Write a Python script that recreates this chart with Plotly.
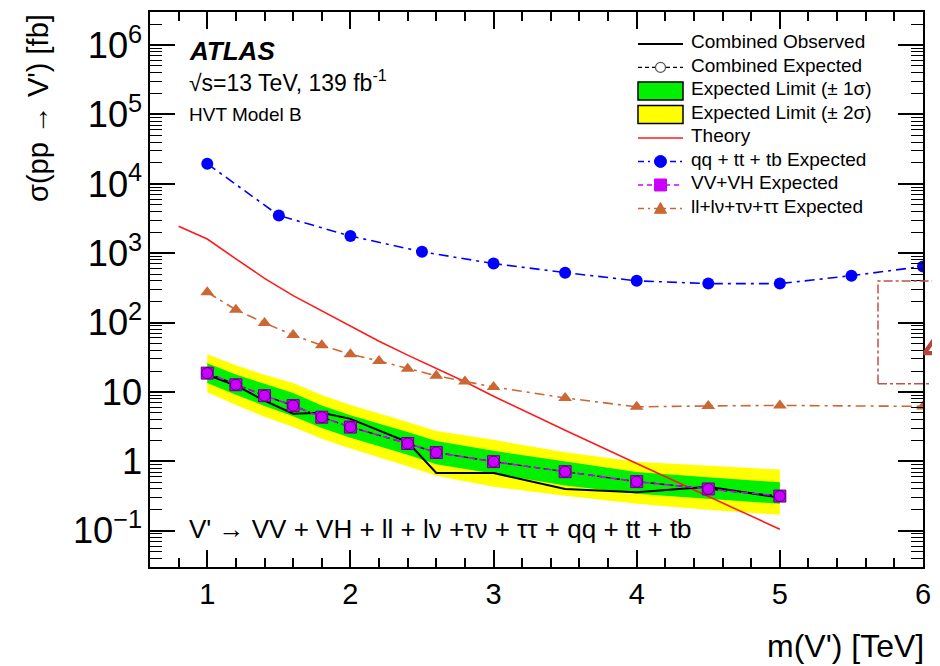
import math
import plotly.graph_objects as go

# ---------------- data ----------------
mass_comb = [1.0, 1.2, 1.4, 1.6, 1.8, 2.0, 2.4, 2.6, 3.0, 3.5, 4.0, 4.5, 5.0]
obs_limit = [17.7, 12.4, 7.5, 4.85, 5.0, 4.1, 1.9, 0.68, 0.68, 0.40, 0.36, 0.43, 0.30]
exp_limit = [18.7, 12.7, 8.85, 6.37, 4.33, 3.12, 1.81, 1.34, 0.99, 0.71, 0.51, 0.40, 0.316]
vvvh_exp = [18.7, 12.7, 8.85, 6.37, 4.33, 3.12, 1.81, 1.34, 0.99, 0.71, 0.51, 0.40, 0.316]
band1_up = [26.0, 17.9, 13.1, 9.7, 6.4, 4.6, 2.64, 1.97, 1.42, 0.99, 0.70, 0.59, 0.50]
band1_dn = [13.5, 9.1, 6.3, 4.48, 3.03, 2.18, 1.24, 0.91, 0.66, 0.45, 0.34, 0.29, 0.245]
band2_up = [34.9, 24.2, 17.7, 13.5, 9.06, 6.5, 3.7, 2.74, 2.04, 1.35, 0.99, 0.86, 0.76]
band2_dn = [9.9, 6.5, 4.4, 3.12, 2.12, 1.53, 0.85, 0.62, 0.43, 0.32, 0.245, 0.20, 0.17]

mass_theory = [0.8, 0.9, 1.0, 1.2, 1.4, 1.6, 1.8, 2.0, 2.2, 2.4, 2.6, 2.8, 3.0, 3.5, 4.0, 4.5, 5.0]
theory_xsec = [2450, 2000, 1600, 830, 435, 245, 148, 89, 54, 34, 22, 14, 8.7, 2.8, 0.93, 0.31, 0.105]

mass_qq = [1.0, 1.5, 2.0, 2.5, 3.0, 3.5, 4.0, 4.5, 5.0, 5.5, 6.0]
qq_exp = [19500, 3500, 1770, 1050, 710, 525, 400, 365, 365, 475, 645]

mass_lep = [1.0, 1.2, 1.4, 1.6, 1.8, 2.0, 2.2, 2.4, 2.6, 2.8, 3.0, 3.5, 4.0, 4.5, 5.0, 6.0]
lep_exp = [274, 153, 99, 66, 47, 35, 28, 21.7, 17.1, 14.2, 11.8, 8.2, 6.1, 6.3, 6.4, 6.2]

x_tickvals = [1, 2, 3, 4, 5, 6]
x_ticktext = ["1", "2", "3", "4", "5", "6"]
y_tickvals = [0.1, 1, 10, 100, 1e3, 1e4, 1e5, 1e6]
y_ticktext = ["10<sup>\u22121</sup>", "1", "10", "10<sup>2</sup>", "10<sup>3</sup>",
              "10<sup>4</sup>", "10<sup>5</sup>", "10<sup>6</sup>"]

legend_labels = ["Combined Observed", "Combined Expected",
                 "Expected Limit (\u00b1 1\u03c3)", "Expected Limit (\u00b1 2\u03c3)",
                 "Theory", "qq + tt + tb Expected", "VV+VH Expected",
                 "ll+l\u03bd+\u03c4\u03bd+\u03c4\u03c4 Expected"]

# ---------------- style / geometry ----------------
FONT = "Liberation Sans, Arial, Helvetica, sans-serif"
GREEN = "#00f000"
YELLOW = "#ffff00"
BLUE = "#0000ff"
MAGENTA = "#cc00ff"
BROWN = "#cc6633"
RED = "#ff1a1a"
DASHDOT = "10px,5px,3px,5px"

X_MIN, X_MAX = 0.6, 6.0
Y_MIN, Y_MAX = 0.03, 3e6
LY0, LY1 = math.log10(Y_MIN), math.log10(Y_MAX)

# page has an 8px body margin -> figure is 8px smaller, margins shifted
FIG_W, FIG_H = 932, 658
ML, MR, MT, MB = 142, 17, 2, 99
PW = FIG_W - ML - MR      # plot width in px
PH = FIG_H - MT - MB      # plot height in px
OFF = 8                   # page offset


def pp(X, Y):
    """page pixel -> paper coords"""
    return (X - OFF - ML) / PW, (FIG_H - MB - (Y - OFF)) / PH


fig = go.Figure()

# bands
fig.add_trace(go.Scatter(
    x=mass_comb + mass_comb[::-1], y=band2_up + band2_dn[::-1],
    fill="toself", fillcolor=YELLOW, line=dict(width=0), mode="lines",
    hoverinfo="skip", showlegend=False))
fig.add_trace(go.Scatter(
    x=mass_comb + mass_comb[::-1], y=band1_up + band1_dn[::-1],
    fill="toself", fillcolor=GREEN, line=dict(width=0), mode="lines",
    hoverinfo="skip", showlegend=False))

# theory
fig.add_trace(go.Scatter(
    x=mass_theory, y=theory_xsec, mode="lines", showlegend=False,
    line=dict(color=RED, width=1.6)))

# qq + tt + tb expected
fig.add_trace(go.Scatter(
    x=mass_qq, y=qq_exp, mode="lines+markers", showlegend=False,
    line=dict(color=BLUE, width=1.6, dash=DASHDOT),
    marker=dict(symbol="circle", size=12, color=BLUE)))

# leptonic expected
fig.add_trace(go.Scatter(
    x=mass_lep, y=lep_exp, mode="lines+markers", showlegend=False,
    line=dict(color=BROWN, width=1.6, dash=DASHDOT),
    marker=dict(symbol="triangle-up", size=12, color=BROWN)))

# combined expected
fig.add_trace(go.Scatter(
    x=mass_comb, y=exp_limit, mode="lines+markers", showlegend=False,
    line=dict(color="black", width=1.4, dash="5px,4px"),
    marker=dict(symbol="circle-open", size=10, color="#555555", line=dict(width=1.2))))

# observed
fig.add_trace(go.Scatter(
    x=mass_comb, y=obs_limit, mode="lines", showlegend=False,
    line=dict(color="black", width=2)))

# VV+VH expected
fig.add_trace(go.Scatter(
    x=mass_comb, y=vvvh_exp, mode="lines+markers", showlegend=False,
    line=dict(color=MAGENTA, width=1.6, dash="7px,4px"),
    marker=dict(symbol="square", size=12, color="#c000f0",
                line=dict(color="#6a0090", width=1))))
fig.add_trace(go.Scatter(
    x=mass_comb, y=vvvh_exp, mode="markers", showlegend=False, hoverinfo="skip",
    marker=dict(symbol="circle", size=11, color=MAGENTA,
                line=dict(color="#50006a", width=1))))

# ---------------- axes: ROOT-style inside ticks on all four sides ----------------
axis_common = dict(
    showline=True, linecolor="black", linewidth=2, mirror="allticks",
    ticks="inside", tickcolor="black", showgrid=False, zeroline=False,
    layer="above traces",
    tickfont=dict(family=FONT, size=29, color="black"),
)

fig.update_xaxes(
    range=[X_MIN, X_MAX], tickmode="linear", tick0=0, dtick=1,
    ticklen=17, tickwidth=2,
    minor=dict(ticks="inside", ticklen=9, tickwidth=1.5, tickmode="linear",
               tick0=0, dtick=0.2, tickcolor="black", showgrid=False),
    **axis_common)
fig.update_yaxes(
    type="log", range=[LY0, LY1],
    tickmode="linear", tick0=0, dtick=1, exponentformat="power", showexponent="all",
    ticklen=25, tickwidth=2,
    minor=dict(ticks="inside", ticklen=12, tickwidth=1.3, dtick="D1",
               tickcolor="black", showgrid=False),
    **axis_common)

shapes = []

# ---------------- texts ----------------
annotations = []


def add_text(text, X, Y, size, xanchor="left", yanchor="middle", angle=0, color="black"):
    px, py = pp(X, Y)
    annotations.append(dict(text=text, x=px, y=py, xref="paper", yref="paper",
                            xanchor=xanchor, yanchor=yanchor, textangle=angle,
                            showarrow=False,
                            font=dict(family=FONT, size=size, color=color)))


add_text("<b><i>ATLAS</i></b>", 187, 49, 26)
add_text("\u221as=13 TeV, 139 fb<sup>-1</sup>", 187, 79, 23)
add_text("HVT Model B", 187, 113, 19)
add_text("V' \u2192 VV + VH + ll + l\u03bd +\u03c4\u03bd + \u03c4\u03c4 + qq + tt + tb",
         187, 529, 26)
add_text("\u03c3(pp \u2192 V') [fb]", 38, 10, 29, xanchor="center", yanchor="top", angle=-90)
add_text("m(V') [TeV]", 926, 646, 32, xanchor="right")
add_text("4", 920, 343, 62, color="#b5443f")

# ---------------- manual legend (ROOT style) ----------------
LX0, LX1, LXC = 638, 683, 660.5
ROW0, DROW = 42, 23.6


def hline(y, color, width, dash="solid"):
    x0, yy = pp(LX0, y)
    x1, _ = pp(LX1, y)
    shapes.append(dict(type="line", xref="paper", yref="paper", x0=x0, x1=x1, y0=yy, y1=yy,
                       line=dict(color=color, width=width, dash=dash)))


def box(y, fill):
    x0, y0 = pp(LX0, y + 9)
    x1, y1 = pp(LX1, y - 9)
    shapes.append(dict(type="rect", xref="paper", yref="paper", x0=x0, x1=x1, y0=y0, y1=y1,
                       fillcolor=fill, line=dict(color="black", width=1.5)))


def circ(y, r, fill, line_color, lw=1):
    x0, y0 = pp(LXC - r, y + r)
    x1, y1 = pp(LXC + r, y - r)
    shapes.append(dict(type="circle", xref="paper", yref="paper", x0=x0, x1=x1, y0=y0, y1=y1,
                       fillcolor=fill, line=dict(color=line_color, width=lw)))


def sq(y, h, fill):
    x0, y0 = pp(LXC - h, y + h)
    x1, y1 = pp(LXC + h, y - h)
    shapes.append(dict(type="rect", xref="paper", yref="paper", x0=x0, x1=x1, y0=y0, y1=y1,
                       fillcolor=fill, line=dict(color=fill, width=1)))


def tri(y, h, fill):
    a = pp(LXC - h, y + h * 0.8)
    b = pp(LXC + h, y + h * 0.8)
    c = pp(LXC, y - h * 1.0)
    path = "M {:.5f},{:.5f} L {:.5f},{:.5f} L {:.5f},{:.5f} Z".format(a[0], a[1], b[0], b[1], c[0], c[1])
    shapes.append(dict(type="path", xref="paper", yref="paper", path=path,
                       fillcolor=fill, line=dict(color=fill, width=1)))


rows = [ROW0 + DROW * i for i in range(len(legend_labels))]
hline(rows[0], "black", 2)
hline(rows[1], "black", 1.4, "4px,3px")
circ(rows[1], 5, "white", "#555555", 1.2)
box(rows[2], GREEN)
box(rows[3], YELLOW)
hline(rows[4], RED, 1.6)
hline(rows[5], BLUE, 1.6, "6px,4px,2px,4px")
circ(rows[5], 6, BLUE, BLUE)
hline(rows[6], MAGENTA, 1.6, "5px,4px")
sq(rows[6], 6, MAGENTA)
hline(rows[7], BROWN, 1.6, "6px,4px,2px,4px")
tri(rows[7], 6, BROWN)

for lab, ry in zip(legend_labels, rows):
    add_text(lab, 689, ry - 2, 19)

# artifact frame at right edge of the reference crop
rx0, ry0 = pp(878, 383)
rx1, ry1 = pp(960, 280)
shapes.append(dict(type="rect", xref="paper", yref="paper", x0=rx0, x1=rx1, y0=ry0, y1=ry1,
                   line=dict(color="#c0504d", width=1.5, dash="dashdot")))

fig.update_layout(
    width=FIG_W, height=FIG_H,
    margin=dict(l=ML, r=MR, t=MT, b=MB),
    paper_bgcolor="white", plot_bgcolor="white",
    font=dict(family=FONT, color="black"),
    annotations=annotations, shapes=shapes,
    showlegend=False,
)

fig.write_html("out.html")
